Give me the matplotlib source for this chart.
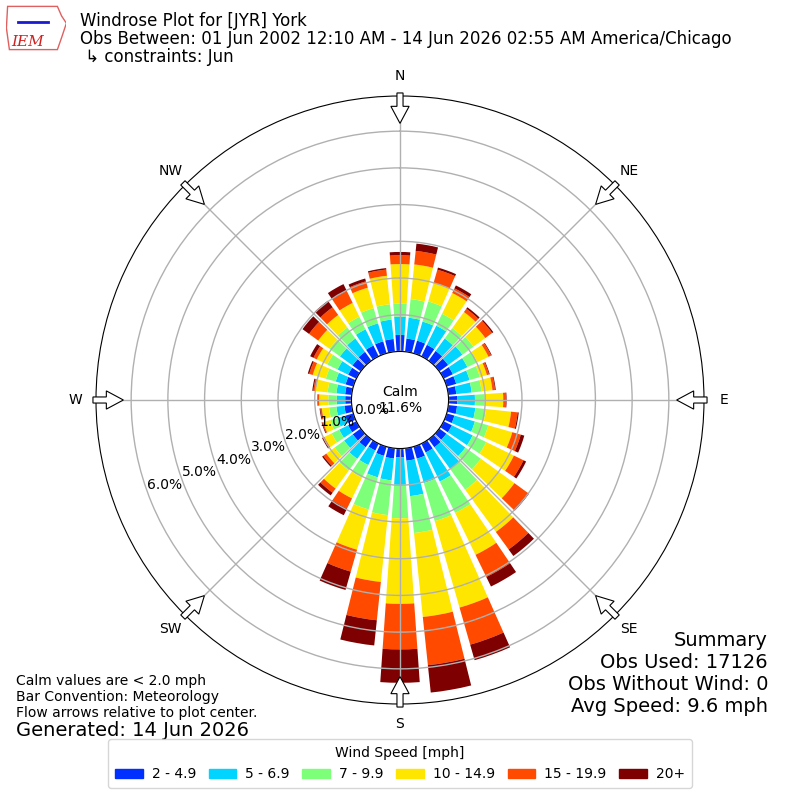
import numpy as np
import matplotlib
matplotlib.use("Agg")
import matplotlib.pyplot as plt
from matplotlib.patches import Rectangle, FancyArrow, Polygon

# wind direction bins (degrees, meteorological) and frequency (%) per speed bin
directions = np.arange(0, 360, 10)
speed_labels = ["2 - 4.9", "5 - 6.9", "7 - 9.9", "10 - 14.9", "15 - 19.9", "20+"]
speed_colors = ["#0030ff", "#00d4ff", "#7dff7a", "#ffe600", "#ff4a00", "#7f0000"]

spd_2_5 = [0.45, 0.36, 0.36, 0.35, 0.33, 0.30, 0.28, 0.27, 0.22, 0.24, 0.24, 0.22,
           0.25, 0.24, 0.27, 0.27, 0.34, 0.34, 0.24, 0.28, 0.26, 0.21, 0.27, 0.27,
           0.25, 0.22, 0.20, 0.17, 0.18, 0.22, 0.25, 0.28, 0.30, 0.33, 0.34, 0.35]
spd_5_7 = [0.50, 0.57, 0.54, 0.58, 0.42, 0.48, 0.44, 0.38, 0.42, 0.48, 0.50, 0.58,
           0.63, 0.64, 0.73, 0.88, 0.69, 0.97, 0.75, 0.60, 0.61, 0.44, 0.39, 0.29,
           0.27, 0.23, 0.22, 0.23, 0.24, 0.28, 0.32, 0.42, 0.45, 0.49, 0.51, 0.53]
spd_7_10 = [0.35, 0.51, 0.57, 0.36, 0.35, 0.37, 0.30, 0.29, 0.27, 0.27, 0.29, 0.38,
            0.41, 0.52, 0.70, 0.95, 1.08, 1.01, 0.91, 0.95, 0.91, 0.38, 0.39, 0.32,
            0.23, 0.20, 0.20, 0.23, 0.24, 0.28, 0.31, 0.35, 0.37, 0.38, 0.43, 0.42]
spd_10_15 = [1.08, 0.95, 0.53, 0.63, 0.54, 0.40, 0.34, 0.20, 0.30, 0.50, 0.69, 0.68,
             0.84, 1.13, 1.42, 1.27, 2.45, 2.30, 2.33, 1.83, 1.14, 0.63, 0.61, 0.28,
             0.22, 0.20, 0.20, 0.25, 0.33, 0.37, 0.32, 0.38, 0.42, 0.42, 0.58, 0.78]
spd_15_20 = [0.24, 0.37, 0.37, 0.14, 0.11, 0.23, 0.08, 0.06, 0.07, 0.07, 0.18, 0.24,
             0.29, 0.45, 0.59, 0.67, 1.05, 1.32, 1.24, 1.05, 0.62, 0.31, 0.14, 0.10,
             0.04, 0.03, 0.04, 0.04, 0.06, 0.10, 0.10, 0.31, 0.26, 0.36, 0.18, 0.17]
spd_20p = [0.09, 0.20, 0.06, 0.09, 0.05, 0.04, 0.02, 0.02, 0.02, 0.02, 0.03, 0.10,
           0.08, 0.04, 0.22, 0.29, 0.44, 0.75, 0.91, 0.69, 0.52, 0.20, 0.09, 0.04,
           0.03, 0.02, 0.02, 0.01, 0.03, 0.04, 0.10, 0.22, 0.22, 0.21, 0.08, 0.04]
speed_bins = [spd_2_5, spd_5_7, spd_7_10, spd_10_15, spd_15_20, spd_20p]

calm_pct = 11.6
compass = ["N", "NE", "E", "SE", "S", "SW", "W", "NW"]
rticks = [0, 1, 2, 3, 4, 5, 6]

title = ("Windrose Plot for [JYR] York\n"
         "Obs Between: 01 Jun 2002 12:10 AM - 14 Jun 2026 02:55 AM America/Chicago\n"
         " \u21b3 constraints: Jun")
notes = ("Calm values are < 2.0 mph\nBar Convention: Meteorology\n"
         "Flow arrows relative to plot center.")
generated = "Generated: 14 Jun 2026"
summary = "Summary\nObs Used: 17126\nObs Without Wind: 0\nAvg Speed: 9.6 mph"

fig = plt.figure(figsize=(8, 8), dpi=100)
ax = fig.add_axes([0.12, 0.12, 0.76, 0.76], projection="polar")
ax.set_theta_zero_location("N")
ax.set_theta_direction(-1)

theta = np.deg2rad(directions)
bottom = np.zeros(len(directions))
for vals, color in zip(speed_bins, speed_colors):
    vals = np.array(vals)
    ax.bar(theta, vals, width=np.deg2rad(8), bottom=bottom, color=color,
           edgecolor="none", zorder=1)
    bottom = bottom + vals

rmax = bottom.max() * 1.04
ax.set_ylim(0, rmax)
ax.set_rorigin(-rmax * 0.19)

ax.set_thetagrids(np.arange(0, 360, 45), compass, fontsize=10)
ax.tick_params(axis="x", pad=4)
ax.set_yticks(rticks)
ax.set_yticklabels(["%.1f%%" % t for t in rticks], fontsize=10)
ax.set_rlabel_position(250)
ax.grid(True, color="#b0b0b0", lw=1)

ax.text(0.5, 0.5, "Calm\n%.1f%%" % calm_pct, transform=ax.transAxes,
        ha="center", va="center", fontsize=10, zorder=6)

# flow arrows
for b in np.arange(0, 360, 45):
    s, c = np.sin(np.deg2rad(b)), np.cos(np.deg2rad(b))
    arr = FancyArrow(0.5 + 0.505 * s, 0.5 + 0.505 * c, -0.05 * s, -0.05 * c,
                     width=0.01, head_width=0.03, head_length=0.028,
                     length_includes_head=True, fc="white", ec="black",
                     lw=0.8, transform=ax.transAxes, clip_on=False, zorder=5)
    ax.add_patch(arr)

fig.text(0.1, 0.985, title, fontsize=12, va="top", ha="left", linespacing=1.0)
fig.text(0.02, 0.1, notes, fontsize=10, va="bottom", ha="left")
fig.text(0.02, 0.087, generated, fontsize=14, va="center", ha="left")
fig.text(0.96, 0.105, summary, fontsize=14, va="bottom", ha="right")

handles = [Rectangle((0, 0), 1, 1, color=c) for c in speed_colors]
fig.legend(handles, speed_labels, loc="lower center", ncol=6,
           bbox_to_anchor=(0.5, 0.006), title="Wind Speed [mph]", fontsize=10,
           title_fontsize=10, handlelength=2.0, handletextpad=0.65,
           columnspacing=0.9, borderpad=0.5)

# rough IEM logo
lax = fig.add_axes([0.008, 0.935, 0.075, 0.06])
lax.axis("off")
lax.set_xlim(0, 1)
lax.set_ylim(0, 1)
lax.add_patch(Polygon([(0.02, 0.95), (0.85, 0.95), (0.92, 0.75), (1.0, 0.6),
                       (0.92, 0.3), (0.85, 0.05), (0.05, 0.05), (0.0, 0.5)],
                      closed=True, fill=False, ec="#e06060", lw=1))
lax.plot([0.2, 0.7], [0.62, 0.62], color="#1a1ad0", lw=2)
lax.text(0.35, 0.2, "IEM", color="#d02020", fontsize=11, family="serif",
         style="italic", ha="center", va="center")

fig.savefig("out.png", dpi=100)
